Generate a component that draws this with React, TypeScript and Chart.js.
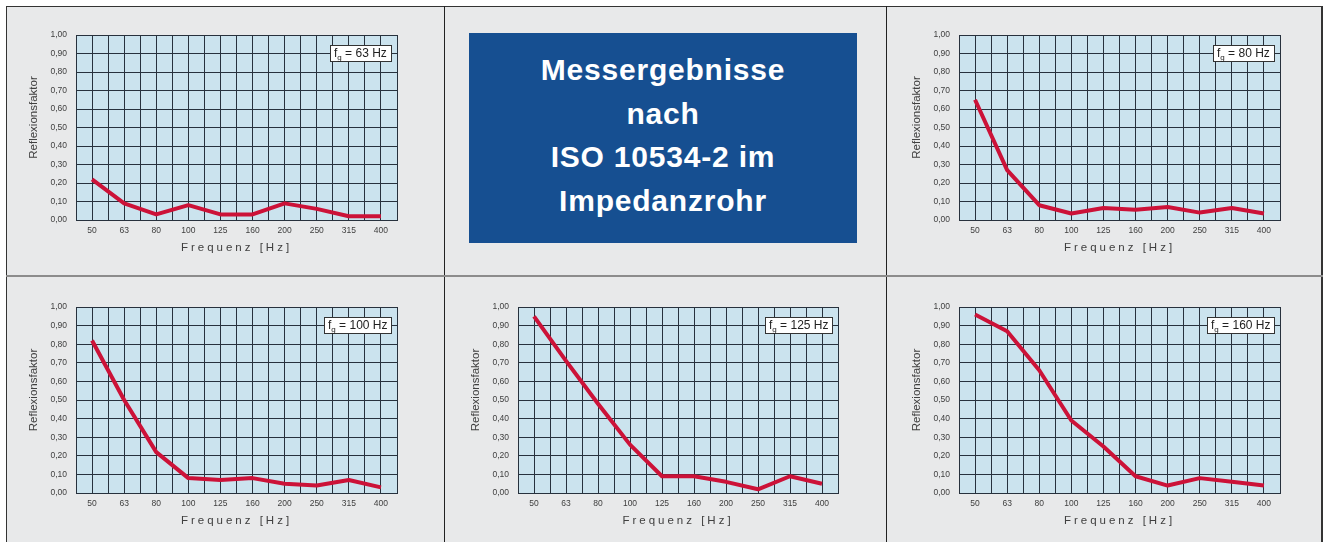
import React, { useEffect, useRef } from 'react';
import { Chart, registerables } from 'chart.js';

Chart.register(...registerables);

// ---- data ----
const frequencies = ['50', '63', '80', '100', '125', '160', '200', '250', '315', '400'];
const refl63 = [0.22, 0.09, 0.03, 0.08, 0.03, 0.03, 0.09, 0.06, 0.02, 0.02];
const refl80 = [0.65, 0.27, 0.08, 0.035, 0.065, 0.055, 0.07, 0.04, 0.065, 0.035];
const refl100 = [0.82, 0.5, 0.22, 0.08, 0.07, 0.08, 0.05, 0.04, 0.07, 0.03];
const refl125 = [0.95, 0.71, 0.48, 0.26, 0.09, 0.09, 0.06, 0.02, 0.09, 0.05];
const refl160 = [0.96, 0.87, 0.66, 0.39, 0.25, 0.09, 0.04, 0.08, 0.06, 0.04];
const cutoffLabels = ['63', '80', '100', '125', '160'];
const titleLines = ['Messergebnisse', 'nach', 'ISO 10534-2 im', 'Impedanzrohr'];
const xTitle = 'Frequenz [Hz]';
const yTitle = 'Reflexionsfaktor';

const FONT = '"Liberation Sans", Arial, Helvetica, sans-serif';
const GRID = '#27313d';
const TEXT = '#404040';

const bgPlugin = {
  id: 'plotBg',
  beforeDraw(chart: any) {
    const { ctx, chartArea } = chart;
    ctx.save();
    ctx.fillStyle = '#cbe3ee';
    ctx.fillRect(chartArea.left, chartArea.top, chartArea.right - chartArea.left, chartArea.bottom - chartArea.top);
    ctx.restore();
  },
};

const tweakPlugin = {
  id: 'axisTweak',
  beforeDraw(chart: any) {
    const xs: any = chart.scales.x;
    const ys: any = chart.scales.y;
    if (xs && !xs.__patched) {
      const orig = xs.drawTitle;
      xs.drawTitle = function (...a: any[]) {
        const c = this.ctx;
        c.save();
        c.letterSpacing = '3px';
        orig.apply(this, a);
        c.restore();
      };
      xs.__patched = true;
    }
    if (ys && !ys.__patched) {
      const orig = ys.drawTitle;
      ys.drawTitle = function (...a: any[]) {
        const c = this.ctx;
        c.save();
        c.translate(0, -10);
        orig.apply(this, a);
        c.restore();
      };
      ys.__patched = true;
    }
  },
};

const fgPlugin = {
  id: 'fgBox',
  afterDraw(chart: any, _args: any, opts: any) {
    const { ctx, chartArea } = chart;
    const yc = chart.scales.y.getPixelForValue(0.9);
    const main = `12px ${FONT}`;
    const subF = `8px ${FONT}`;
    ctx.save();
    ctx.font = main;
    const wf = ctx.measureText('f').width;
    const rest = ` = ${opts.text} Hz`;
    const wr = ctx.measureText(rest).width;
    ctx.font = subF;
    const ws = ctx.measureText('g').width;
    const padX = 4;
    const h = 16;
    const w = Math.round(padX * 2 + wf + ws + wr);
    const right = Math.round(chartArea.right - 6);
    const left = right - w;
    const top = Math.round(yc - h / 2 - 1);
    ctx.fillStyle = '#ffffff';
    ctx.fillRect(left, top, w, h);
    ctx.strokeStyle = '#333';
    ctx.lineWidth = 1;
    ctx.strokeRect(left + 0.5, top + 0.5, w, h);
    ctx.fillStyle = '#222';
    ctx.textBaseline = 'alphabetic';
    const base = top + 12;
    ctx.font = main;
    ctx.fillText('f', left + padX, base);
    ctx.font = subF;
    ctx.fillText('g', left + padX + wf, base + 3);
    ctx.font = main;
    ctx.fillText(rest, left + padX + wf + ws, base);
    ctx.restore();
  },
};

type Rect = { left: number; top: number; w: number; h: number };

function ReflChart({ values, fg, rect }: { values: number[]; fg: string; rect: Rect }) {
  const ref = useRef<HTMLCanvasElement>(null);
  const W = rect.w + 100;
  const H = rect.h + 75;
  useEffect(() => {
    const chart = new Chart(ref.current as HTMLCanvasElement, {
      type: 'line',
      data: {
        datasets: [
          {
            data: values.map((v, i) => ({ x: i, y: v })),
            borderColor: '#cc1238',
            borderWidth: 4,
            pointRadius: 0,
            tension: 0,
            borderJoinStyle: 'round',
            fill: false,
          } as any,
        ],
      },
      options: {
        animation: false,
        responsive: false,
        maintainAspectRatio: false,
        layout: { padding: { left: 21, top: 30, right: 30, bottom: 0 } },
        plugins: {
          legend: { display: false },
          tooltip: { enabled: false },
          fgBox: { text: fg },
        } as any,
        scales: {
          x: {
            type: 'linear',
            min: -0.5,
            max: 9.5,
            afterFit: (s: any) => {
              s.height = 45;
            },
            ticks: {
              stepSize: 0.5,
              autoSkip: false,
              maxRotation: 0,
              minRotation: 0,
              padding: 6,
              color: TEXT,
              font: { family: FONT, size: 8.5 },
              callback: (v: any) => (Number.isInteger(v) ? frequencies[v] : ''),
            },
            grid: { color: GRID, lineWidth: 1, drawTicks: false },
            border: { color: GRID, width: 1 },
            title: {
              display: true,
              text: xTitle,
              color: TEXT,
              font: { family: FONT, size: 11.5 },
              padding: { top: 0, bottom: 10 },
            },
          },
          y: {
            type: 'linear',
            min: 0,
            max: 1,
            afterFit: (s: any) => {
              s.width = 49;
            },
            ticks: {
              stepSize: 0.1,
              padding: 9,
              color: TEXT,
              font: { family: FONT, size: 8.5 },
              callback: (v: any) => Number(v).toFixed(2).replace('.', ','),
            },
            grid: { color: GRID, lineWidth: 1, drawTicks: false },
            border: { color: GRID, width: 1 },
            title: {
              display: true,
              text: yTitle,
              color: TEXT,
              font: { family: FONT, size: 11.5 },
              padding: 0,
            },
          },
        } as any,
      },
      plugins: [bgPlugin, tweakPlugin, fgPlugin],
    });
    return () => chart.destroy();
  }, []);
  return (
    <div style={{ position: 'absolute', left: rect.left - 70, top: rect.top - 30, width: W, height: H }}>
      <canvas ref={ref} width={W} height={H} style={{ display: 'block', width: W, height: H }} />
    </div>
  );
}

const line = (style: React.CSSProperties) => <div style={{ position: 'absolute', ...style }} />;

export default function App() {
  return (
    <div
      style={{
        position: 'absolute',
        left: 0,
        top: 0,
        width: 1328,
        height: 542,
        background: '#ffffff',
        overflow: 'hidden',
      }}
    >
      {line({ left: 6, top: 6, width: 1317, height: 536, background: '#e8e9ea' })}
      {line({ left: 6, top: 6, width: 1317, height: 1, background: '#333' })}
      {line({ left: 6, top: 6, width: 1, height: 536, background: '#333' })}
      {line({ left: 1321, top: 6, width: 2, height: 536, background: '#333' })}
      {line({ left: 444, top: 6, width: 1, height: 536, background: '#222' })}
      {line({ left: 886, top: 6, width: 1, height: 536, background: '#222' })}
      {line({ left: 6, top: 275, width: 1317, height: 2, background: '#8c8c8c' })}

      <div
        style={{
          position: 'absolute',
          left: 469,
          top: 33,
          width: 388,
          height: 210,
          background: '#164f91',
          color: '#ffffff',
          fontFamily: FONT,
          fontWeight: 'bold',
          fontSize: 30,
          letterSpacing: '0.8px',
          lineHeight: '43.5px',
          textAlign: 'center',
          display: 'flex',
          flexDirection: 'column',
          justifyContent: 'center',
          paddingBottom: 6,
          boxSizing: 'border-box',
        }}
      >
        {titleLines.map((t) => (
          <div key={t}>{t}</div>
        ))}
      </div>

      <ReflChart values={refl63} fg={cutoffLabels[0]} rect={{ left: 76, top: 35, w: 321, h: 185 }} />
      <ReflChart values={refl80} fg={cutoffLabels[1]} rect={{ left: 959, top: 35, w: 321, h: 185 }} />
      <ReflChart values={refl100} fg={cutoffLabels[2]} rect={{ left: 76, top: 307, w: 321, h: 186 }} />
      <ReflChart values={refl125} fg={cutoffLabels[3]} rect={{ left: 518, top: 307, w: 320, h: 186 }} />
      <ReflChart values={refl160} fg={cutoffLabels[4]} rect={{ left: 959, top: 307, w: 321, h: 186 }} />
    </div>
  );
}
